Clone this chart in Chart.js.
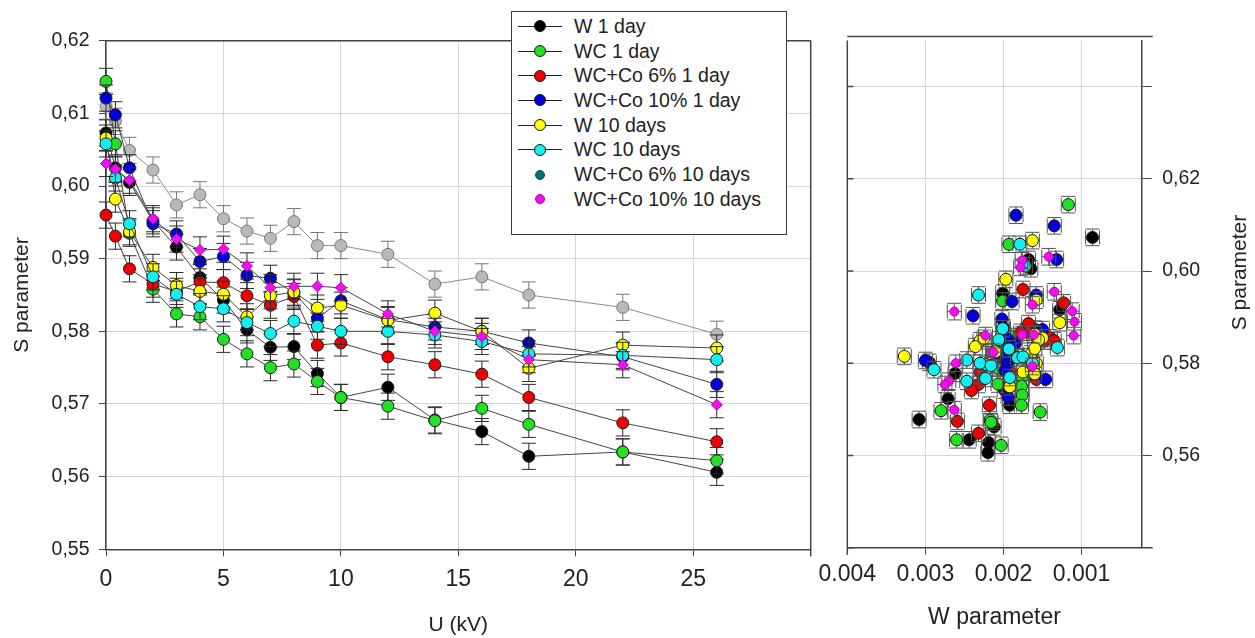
<!DOCTYPE html>
<html>
  <head>
    <meta charset="UTF-8" />
    <title>S parameter vs U and W</title>
    <script src="https://cdn.jsdelivr.net/npm/chart.js"></script>
    <style>
      body {
        margin: 0;
        background: #fff;
        width: 1255px;
        height: 638px;
        overflow: hidden;
        position: relative;
        font-family: "Liberation Sans", Arial, sans-serif;
      }
      #leftChart {
        position: absolute;
        left: 0;
        top: 0;
      }
      #rightChart {
        position: absolute;
        left: 810px;
        top: 0;
      }
      #legend {
        position: absolute;
        left: 511px;
        top: 11px;
        width: 274px;
        height: 222px;
        border: 1.5px solid #3a3a3a;
        background: #fff;
        color: #222;
        font-size: 19.5px;
      }
      .row {
        position: absolute;
        left: 0;
        width: 100%;
        height: 24.7px;
        line-height: 24.7px;
      }
      .row .ln {
        position: absolute;
        left: 6px;
        width: 44px;
        top: 12px;
        height: 1px;
        background: #222;
      }
      .row .dot {
        position: absolute;
        border-radius: 50%;
        box-sizing: border-box;
      }
      .row .txt {
        position: absolute;
        left: 62px;
        white-space: nowrap;
      }
    </style>
  </head>
  <body>
    <canvas id="leftChart" width="830" height="638"></canvas>
    <canvas id="rightChart" width="445" height="638"></canvas>
    <div id="legend"></div>

    <script>
      // voltage points (kV)
      const voltage = [0, 0.4, 1, 2, 3, 4, 5, 6, 7, 8, 9, 10, 12, 14, 16, 18, 22, 26];

      // S parameter per series (left plot)
      const sGray = [0.611, 0.6089, 0.6049, 0.6022, 0.5974, 0.5988, 0.5955, 0.5938, 0.5928, 0.5951, 0.5918, 0.5918, 0.5906, 0.5865, 0.5875, 0.585, 0.5833, 0.5796];
      const sW1 = [0.6073, 0.6025, 0.6005, 0.5952, 0.5916, 0.5874, 0.5843, 0.5802, 0.5778, 0.5779, 0.5742, 0.5709, 0.5723, 0.5678, 0.5662, 0.5628, 0.5634, 0.5606];
      const sWC1 = [0.6144, 0.6058, 0.5935, 0.5858, 0.5824, 0.582, 0.5789, 0.5769, 0.575, 0.5755, 0.5731, 0.5709, 0.5697, 0.5677, 0.5694, 0.5672, 0.5634, 0.5622];
      const sCo6_1 = [0.596, 0.5931, 0.5886, 0.5865, 0.5855, 0.5868, 0.5867, 0.5849, 0.5836, 0.5848, 0.5781, 0.5784, 0.5765, 0.5754, 0.5741, 0.5709, 0.5674, 0.5648];
      const sCo10_1 = [0.6121, 0.6098, 0.6025, 0.5948, 0.5934, 0.5896, 0.5903, 0.5877, 0.5873, 0.5853, 0.5818, 0.5842, 0.5816, 0.5806, 0.58, 0.5784, 0.5765, 0.5727];
      const sW10 = [0.6066, 0.5982, 0.5937, 0.5888, 0.5863, 0.5855, 0.5851, 0.582, 0.5849, 0.5854, 0.5832, 0.5836, 0.5815, 0.5825, 0.58, 0.5749, 0.5781, 0.5777];
      const sWC10 = [0.6058, 0.6011, 0.5948, 0.5875, 0.5851, 0.5834, 0.5831, 0.5812, 0.5797, 0.5814, 0.5807, 0.58, 0.58, 0.5795, 0.5786, 0.5769, 0.5767, 0.5761];
      const sCo10_10 = [0.6031, 0.6023, 0.6008, 0.5955, 0.5927, 0.5912, 0.5913, 0.589, 0.586, 0.5862, 0.5862, 0.586, 0.5824, 0.58, 0.5793, 0.5761, 0.5754, 0.5699];

      // W parameter per series (right plot)
      const wW1 = [0.00086, 0.00168, 0.00165, 0.00201, 0.00128, 0.0016, 0.002, 0.00295, 0.00262, 0.00195, 0.00199, 0.00192, 0.00271, 0.00308, 0.00212, 0.00219, 0.00244, 0.0022];
      const wWC1 = [0.00117, 0.00193, 0.00201, 0.0019, 0.00214, 0.002, 0.00207, 0.00176, 0.00177, 0.00207, 0.00176, 0.00177, 0.0028, 0.00217, 0.00153, 0.00216, 0.0026, 0.00203];
      const wCo6_1 = [0.00175, 0.00123, 0.00168, 0.00155, 0.0014, 0.0017, 0.00178, 0.00135, 0.002, 0.00148, 0.0023, 0.00192, 0.00158, 0.00232, 0.00241, 0.00218, 0.00259, 0.00232];
      const wCo10_1 = [0.00184, 0.00135, 0.00132, 0.00158, 0.00189, 0.00202, 0.00239, 0.002, 0.0015, 0.00195, 0.0019, 0.00185, 0.00205, 0.003, 0.00195, 0.00198, 0.00146, 0.00194];
      const wW10 = [0.00163, 0.00197, 0.00158, 0.00128, 0.0016, 0.0015, 0.00155, 0.00165, 0.0023, 0.00225, 0.0016, 0.00236, 0.00327, 0.0021, 0.00158, 0.00192, 0.00175, 0.0016];
      const wWC10 = [0.00179, 0.00172, 0.00232, 0.00201, 0.00206, 0.00131, 0.00193, 0.00182, 0.00222, 0.00175, 0.00247, 0.00163, 0.0023, 0.00216, 0.00289, 0.00192, 0.00223, 0.00247];
      const wCo10_10 = [0.00142, 0.00176, 0.00178, 0.00135, 0.00163, 0.00263, 0.00112, 0.00109, 0.00223, 0.00176, 0.00161, 0.0011, 0.00213, 0.00261, 0.00163, 0.0027, 0.00275, 0.00263];

      const errS = 0.0018;
      const errW = 0.00009;

      // legend
      const legendNames = ["W 1 day", "WC 1 day", "WC+Co 6% 1 day", "WC+Co 10% 1 day", "W 10 days", "WC 10 days", "WC+Co 6% 10 days", "WC+Co 10% 10 days"];
      const legendColors = ["#000000", "#22e022", "#ee0000", "#0000dd", "#ffff00", "#11f0f0", "#007272", "#ee11ee"];
      const legendLine = [true, true, true, true, true, true, false, false];

      // tick values and labels
      const leftXTicks = [0, 5, 10, 15, 20, 25, 30];
      const leftXLabels = ["0", "5", "10", "15", "20", "25", ""];
      const leftYTicks = [0.55, 0.56, 0.57, 0.58, 0.59, 0.6, 0.61, 0.62];
      const leftYLabels = ["0,55", "0,56", "0,57", "0,58", "0,59", "0,60", "0,61", "0,62"];
      const rightXTicks = [0.004, 0.003, 0.002, 0.001];
      const rightXLabels = ["0.004", "0.003", "0.002", "0.001"];
      const rightYTicks = [0.54, 0.56, 0.58, 0.6, 0.62, 0.64];
      const rightYLabels = ["", "0,56", "0,58", "0,60", "0,62", ""];

      Chart.defaults.font.family = '"Liberation Sans", Arial, sans-serif';
      Chart.defaults.color = "#222";

      const pts = (xs, ys) => xs.map((x, i) => ({ x: x, y: ys[i] }));

      // error bars, drawn just before each dataset
      const errorBars = {
        id: "errorBars",
        beforeDatasetDraw(chart, args) {
          const ds = chart.data.datasets[args.index];
          if (!ds.errY && !ds.errX) return;
          const { ctx } = chart;
          const xs = chart.scales.x;
          const ys = chart.scales.y;
          ctx.save();
          ctx.strokeStyle = ds.barColor || "#333";
          ctx.lineWidth = 1;
          ds.data.forEach((p) => {
            const px = xs.getPixelForValue(p.x);
            const py = ys.getPixelForValue(p.y);
            ctx.beginPath();
            if (ds.errY) {
              const t = ys.getPixelForValue(p.y + ds.errY);
              const b = ys.getPixelForValue(p.y - ds.errY);
              ctx.moveTo(px, t); ctx.lineTo(px, b);
              ctx.moveTo(px - 7, t); ctx.lineTo(px + 7, t);
              ctx.moveTo(px - 7, b); ctx.lineTo(px + 7, b);
            }
            if (ds.errX) {
              const l = xs.getPixelForValue(p.x + ds.errX);
              const r = xs.getPixelForValue(p.x - ds.errX);
              ctx.moveTo(l, py); ctx.lineTo(r, py);
              ctx.moveTo(l, py - 7); ctx.lineTo(l, py + 7);
              ctx.moveTo(r, py - 7); ctx.lineTo(r, py + 7);
            }
            ctx.stroke();
          });
          ctx.restore();
        },
      };

      // frame lines that the axes do not draw
      const frame = {
        id: "frame",
        afterDraw(chart, args, opts) {
          const { ctx, chartArea: a } = chart;
          ctx.save();
          ctx.strokeStyle = "#444";
          ctx.lineWidth = 1.5;
          ctx.beginPath();
          if (opts.kind === "left") {
            ctx.moveTo(a.left, a.top); ctx.lineTo(a.right, a.top);
            ctx.moveTo(a.right, a.top); ctx.lineTo(a.right, a.bottom + 7);
          } else {
            ctx.moveTo(a.left, a.top - 4); ctx.lineTo(a.right + 11, a.top - 4);
            ctx.moveTo(a.left, a.top); ctx.lineTo(a.left, a.bottom + 7);
            ctx.moveTo(a.right, a.bottom); ctx.lineTo(a.right + 11, a.bottom);
            rightYTicks.forEach((v) => {
              const y = chart.scales.y.getPixelForValue(v);
              ctx.moveTo(a.left, y); ctx.lineTo(a.left + 6, y);
            });
          }
          ctx.stroke();
          if (opts.kind === "right") {
            ctx.fillStyle = "#222";
            ctx.font = '21px "Liberation Sans", Arial, sans-serif';
            ctx.textAlign = "center";
            ctx.textBaseline = "middle";
            ctx.translate(a.right + 99, a.top + 232);
            ctx.rotate(-Math.PI / 2);
            ctx.fillText("S parameter", 0, 0);
          }
          ctx.restore();
        },
      };

      const markerBorder = "#1a1a1a";

      // left plot: S vs U
      const leftSets = [
        { s: sW1, c: legendColors[0], order: 7 },
        { s: sWC1, c: legendColors[1], order: 6 },
        { s: sCo6_1, c: legendColors[2], order: 5 },
        { s: sCo10_1, c: legendColors[3], order: 4 },
        { s: sW10, c: legendColors[4], order: 3 },
        { s: sWC10, c: legendColors[5], order: 2 },
        { s: sCo10_10, c: legendColors[7], order: 1, diamond: true },
        { s: sGray, c: "#b9b9b9", order: 8, gray: true },
      ];

      new Chart(document.getElementById("leftChart"), {
        type: "scatter",
        data: {
          datasets: leftSets.map((d) => ({
            data: pts(voltage, d.s),
            showLine: true,
            borderColor: d.gray ? "#8a8a8a" : "#444",
            borderWidth: 1,
            backgroundColor: d.c,
            pointBackgroundColor: d.c,
            pointBorderColor: d.gray ? "#777" : d.diamond ? "#c000c0" : markerBorder,
            pointBorderWidth: 1,
            pointStyle: d.diamond ? "rectRot" : "circle",
            pointRadius: d.diamond ? 5.5 : 6,
            order: d.order,
            clip: false,
            errY: errS,
            barColor: d.gray ? "#777" : "#2a2a2a",
          })),
        },
        options: {
          responsive: false,
          animation: false,
          layout: { padding: { top: 40.7, right: 19.3, left: 0, bottom: 0 } },
          plugins: {
            legend: { display: false },
            tooltip: { enabled: false },
            frame: { kind: "left" },
          },
          scales: {
            x: {
              type: "linear",
              min: 0,
              max: 30,
              afterBuildTicks: (axis) => { axis.ticks = leftXTicks.map((v) => ({ value: v })); },
              afterFit: (s) => { s.height = 88.7; },
              ticks: {
                autoSkip: false,
                maxRotation: 0,
                padding: 10,
                font: { size: 23 },
                callback: (v, i) => leftXLabels[i],
              },
              grid: { color: "#d6d6d6", tickColor: "#444", tickLength: 7 },
              border: { color: "#444", width: 1.5 },
              title: { display: true, text: "U (kV)", font: { size: 21 }, padding: { top: 0, bottom: 0 } },
            },
            y: {
              type: "linear",
              min: 0.55,
              max: 0.62,
              afterBuildTicks: (axis) => { axis.ticks = leftYTicks.map((v) => ({ value: v })); },
              afterFit: (s) => { s.width = 106; },
              ticks: {
                autoSkip: false,
                padding: 9.5,
                font: { size: 19.5 },
                callback: (v, i) => leftYLabels[i],
              },
              grid: { color: "#d6d6d6", tickColor: "#444", tickLength: 7 },
              border: { color: "#444", width: 1.5 },
              title: { display: true, text: "S parameter", font: { size: 21 }, padding: { top: 10, bottom: 0 } },
            },
          },
        },
        plugins: [errorBars, frame],
      });

      // right plot: S vs W
      const rightSets = [
        { w: wW1, s: sW1, c: legendColors[0], order: 7 },
        { w: wWC1, s: sWC1, c: legendColors[1], order: 6 },
        { w: wCo6_1, s: sCo6_1, c: legendColors[2], order: 5 },
        { w: wCo10_1, s: sCo10_1, c: legendColors[3], order: 4 },
        { w: wW10, s: sW10, c: legendColors[4], order: 3 },
        { w: wWC10, s: sWC10, c: legendColors[5], order: 2 },
        { w: wCo10_10, s: sCo10_10, c: legendColors[7], order: 1, small: true },
      ];

      new Chart(document.getElementById("rightChart"), {
        type: "scatter",
        data: {
          datasets: rightSets.map((d) => ({
            data: pts(d.w, d.s),
            backgroundColor: d.c,
            pointBackgroundColor: d.c,
            pointBorderColor: d.small ? "#b000b0" : markerBorder,
            pointBorderWidth: 1,
            pointRadius: d.small ? 4.5 : 6,
            order: d.order,
            clip: false,
            errY: errS,
            errX: errW,
            barColor: "#555",
          })),
        },
        options: {
          responsive: false,
          animation: false,
          layout: { padding: { top: 40.5, right: 0, left: 37.3, bottom: 0 } },
          plugins: {
            legend: { display: false },
            tooltip: { enabled: false },
            frame: { kind: "right" },
          },
          scales: {
            x: {
              type: "linear",
              reverse: true,
              min: 0.00023,
              max: 0.004,
              afterBuildTicks: (axis) => { axis.ticks = rightXTicks.map((v) => ({ value: v })); },
              afterFit: (s) => { s.height = 90.3; },
              ticks: {
                autoSkip: false,
                maxRotation: 0,
                padding: 6.5,
                font: { size: 23 },
                callback: (v, i) => rightXLabels[i],
              },
              grid: { color: "#d6d6d6", tickColor: "#444", tickLength: 7 },
              border: { color: "#444", width: 1.5 },
              title: { display: true, text: "W parameter", font: { size: 23 }, padding: { top: 0, bottom: 6.7 } },
            },
            y: {
              type: "linear",
              position: "right",
              min: 0.54,
              max: 0.65,
              afterBuildTicks: (axis) => { axis.ticks = rightYTicks.map((v) => ({ value: v })); },
              afterFit: (s) => { s.width = 113.3; },
              ticks: {
                autoSkip: false,
                padding: 10.5,
                font: { size: 19.5 },
                callback: (v, i) => rightYLabels[i],
              },
              grid: { color: "#d6d6d6", tickColor: "#444", tickLength: 10 },
              border: { color: "#444", width: 1.5 },
            },
          },
        },
        plugins: [errorBars, frame],
      });

      // legend box
      const legendBox = document.getElementById("legend");
      legendNames.forEach((name, i) => {
        const row = document.createElement("div");
        row.className = "row";
        row.style.top = 1.8 + i * 24.7 + "px";
        const size = legendLine[i] ? 12 : 10;
        const dotBorder = i === 6 ? "#005858" : i === 7 ? "#b000b0" : "#1a1a1a";
        row.innerHTML =
          (legendLine[i] ? '<span class="ln"></span>' : "") +
          '<span class="dot" style="left:' + (28 - size / 2) + "px;top:" + (12.5 - size / 2) +
          "px;width:" + size + "px;height:" + size + "px;background:" + legendColors[i] +
          ";border:1px solid " + dotBorder + '"></span>' +
          '<span class="txt">' + name + "</span>";
        legendBox.appendChild(row);
      });
    </script>
  </body>
</html>
